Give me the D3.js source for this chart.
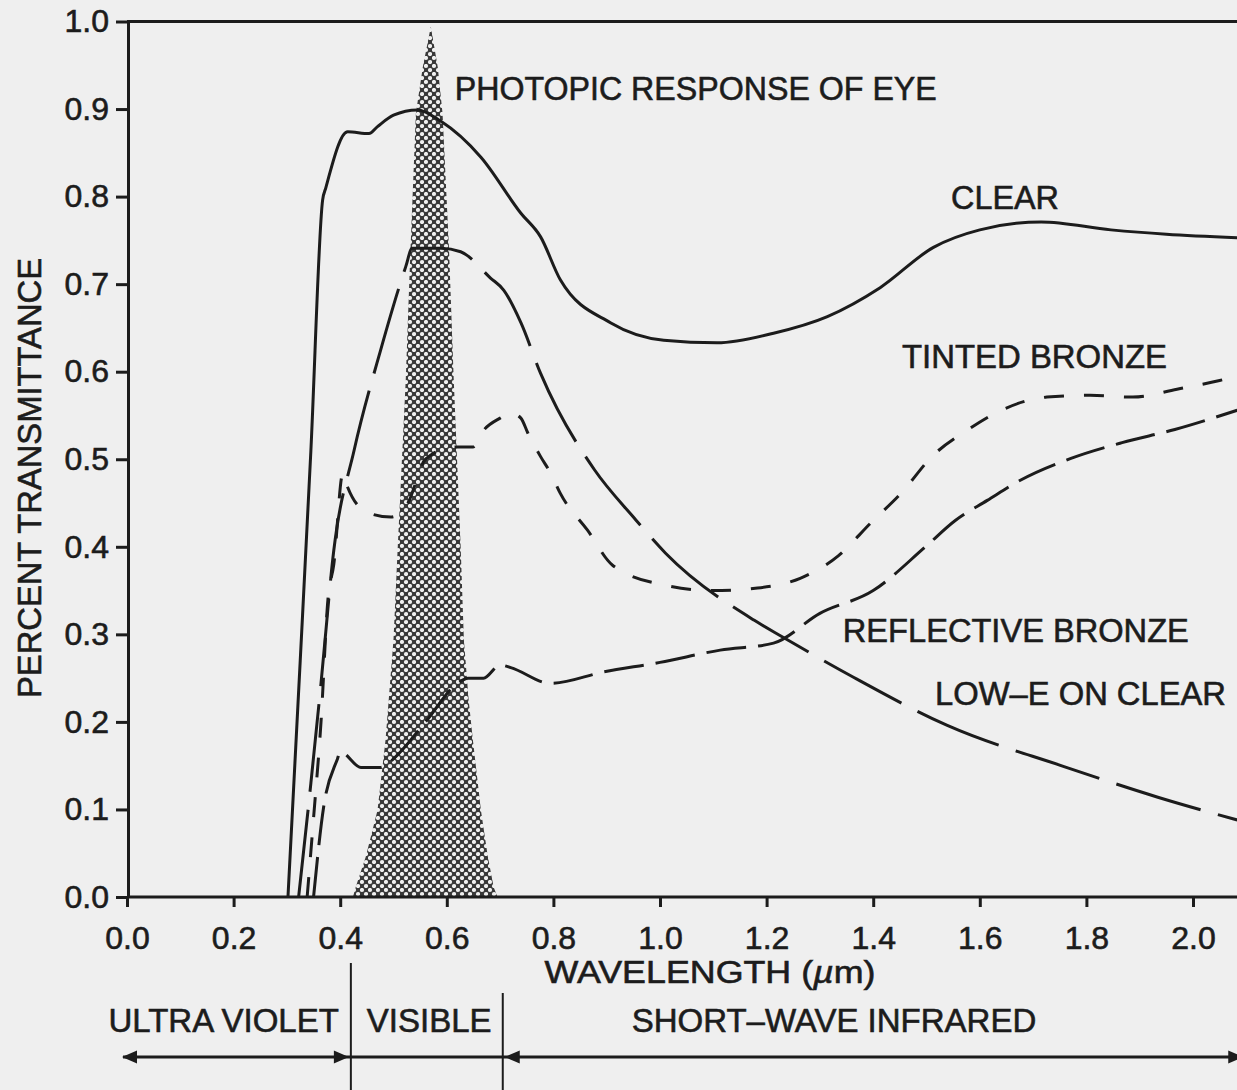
<!DOCTYPE html>
<html>
<head>
<meta charset="utf-8">
<script src="https://cdn.jsdelivr.net/npm/d3@7"></script>
<style>
  html, body { margin: 0; padding: 0; background: #efefef; }
  svg { display: block; }
  text { font-family: "Liberation Sans", Arial, Helvetica, sans-serif; fill: #1c1c1c; stroke: #1c1c1c; stroke-width: 0.6px; }
</style>
</head>
<body>
<svg id="chart" width="1237" height="1090"></svg>
<script>
// Spectral transmittance of window glazings, wavelength in µm
const clearWl = [0.302, 0.325, 0.345, 0.367, 0.373, 0.414, 0.454, 0.47, 0.50, 0.545, 0.589, 0.664, 0.739, 0.776, 0.813, 0.907, 1.007, 1.107, 1.213, 1.314, 1.413, 1.513, 1.60, 1.715, 1.846, 1.95, 2.083];
const clearT  = [0.00, 0.27, 0.51, 0.796, 0.81, 0.874, 0.872, 0.88, 0.893, 0.899, 0.886, 0.845, 0.781, 0.754, 0.705, 0.656, 0.636, 0.633, 0.644, 0.663, 0.696, 0.742, 0.762, 0.771, 0.762, 0.757, 0.753];

const tintedWl = [0.338, 0.35, 0.364, 0.377, 0.388, 0.405, 0.414, 0.452, 0.495, 0.527, 0.56, 0.613, 0.649, 0.669, 0.70, 0.72, 0.739, 0.752, 0.776, 0.795, 0.813, 0.864, 0.911, 1.01, 1.098, 1.183, 1.263, 1.335, 1.395, 1.455, 1.51, 1.576, 1.644, 1.726, 1.807, 1.887, 1.97, 2.05, 2.083];
const tintedT  = [0.00, 0.09, 0.20, 0.34, 0.38, 0.484, 0.468, 0.439, 0.434, 0.45, 0.50, 0.514, 0.514, 0.533, 0.547, 0.553, 0.547, 0.53, 0.503, 0.484, 0.461, 0.419, 0.379, 0.356, 0.35, 0.353, 0.364, 0.39, 0.427, 0.463, 0.503, 0.533, 0.557, 0.571, 0.573, 0.571, 0.58, 0.59, 0.595];

const reflectiveWl = [0.35, 0.369, 0.395, 0.40, 0.439, 0.476, 0.49, 0.56, 0.62, 0.64, 0.669, 0.70, 0.72, 0.795, 0.894, 1.0, 1.113, 1.213, 1.30, 1.40, 1.498, 1.554, 1.614, 1.676, 1.771, 1.867, 1.966, 2.083];
const reflectiveT  = [0.00, 0.103, 0.158, 0.166, 0.148, 0.148, 0.153, 0.20, 0.244, 0.25, 0.25, 0.265, 0.262, 0.244, 0.257, 0.268, 0.282, 0.29, 0.324, 0.35, 0.40, 0.43, 0.453, 0.476, 0.501, 0.519, 0.534, 0.556];

const lowEWl = [0.322, 0.345, 0.364, 0.388, 0.426, 0.476, 0.523, 0.535, 0.589, 0.626, 0.682, 0.707, 0.739, 0.776, 0.877, 0.95, 1.01, 1.177, 1.23, 1.363, 1.539, 1.758, 1.934, 2.083];
const lowET  = [0.00, 0.13, 0.244, 0.396, 0.51, 0.625, 0.72, 0.741, 0.741, 0.737, 0.707, 0.693, 0.656, 0.598, 0.488, 0.434, 0.393, 0.316, 0.297, 0.251, 0.196, 0.149, 0.114, 0.088];

// Photopic (daylight) response of the eye, relative
const photopicWl = [0.424, 0.429, 0.448, 0.470, 0.485, 0.500, 0.508, 0.523, 0.532, 0.542, 0.555, 0.570, 0.583, 0.592, 0.604, 0.613, 0.626, 0.632, 0.641, 0.649, 0.664, 0.677, 0.688, 0.695];
const photopicR  = [0.00, 0.011, 0.046, 0.099, 0.179, 0.294, 0.40, 0.591, 0.742, 0.895, 0.948, 0.994, 0.948, 0.895, 0.742, 0.591, 0.40, 0.294, 0.225, 0.179, 0.099, 0.046, 0.011, 0.00];

// Axis ticks
const xTickValues = [0.0, 0.2, 0.4, 0.6, 0.8, 1.0, 1.2, 1.4, 1.6, 1.8, 2.0];
const yTickValues = [0.0, 0.1, 0.2, 0.3, 0.4, 0.5, 0.6, 0.7, 0.8, 0.9, 1.0];

// Spectral bands below the axis and their boundaries (µm)
const bandNames = ["ULTRA VIOLET", "VISIBLE", "SHORT\u2013WAVE INFRARED"];
const bandEdges = [0.0, 0.42, 0.705, 2.083];

const W = 1237, H = 1090;
const svg = d3.select("#chart");
const ink = "#1c1c1c";

const x = d3.scaleLinear().domain([0, 2]).range([127, 1193]);
const y = d3.scaleLinear().domain([0, 1]).range([897, 21.5]);

const zip = (a, b) => a.map((v, i) => [v, b[i]]);

// Halftone dot fill for the eye-response area
const defs = svg.append("defs");
const pat = defs.append("pattern")
  .attr("id", "halftone")
  .attr("patternUnits", "userSpaceOnUse")
  .attr("width", 8).attr("height", 8);
pat.append("rect").attr("width", 8).attr("height", 8).attr("fill", "#383838");
pat.append("circle").attr("cx", 2).attr("cy", 2).attr("r", 2.1).attr("fill", "#f0f0f0");
pat.append("circle").attr("cx", 6).attr("cy", 6).attr("r", 2.1).attr("fill", "#f0f0f0");

const area = d3.area()
  .x(d => x(d[0]))
  .y0(y(0))
  .y1(d => y(d[1]))
  .curve(d3.curveLinear);

svg.append("path")
  .datum(zip(photopicWl, photopicR))
  .attr("d", area)
  .attr("fill", "url(#halftone)");

// Transmittance curves
const line = d3.line()
  .x(d => x(d[0]))
  .y(d => y(d[1]))
  .curve(d3.curveMonotoneX);

const series = [
  { wl: clearWl,      t: clearT,      dash: null },
  { wl: tintedWl,     t: tintedT,     dash: "20,20" },
  { wl: reflectiveWl, t: reflectiveT, dash: "40,12" },
  { wl: lowEWl,       t: lowET,       dash: "88,18" }
];

svg.append("g").selectAll("path")
  .data(series)
  .join("path")
  .attr("d", s => line(zip(s.wl, s.t)))
  .attr("fill", "none")
  .attr("stroke", ink)
  .attr("stroke-width", 3)
  .attr("stroke-dasharray", s => s.dash);

// Frame: top border and baseline running to the page edge
svg.append("line")
  .attr("x1", x(0)).attr("x2", W)
  .attr("y1", y(1)).attr("y2", y(1))
  .attr("stroke", ink).attr("stroke-width", 3);
svg.append("line")
  .attr("x1", x(0)).attr("x2", W)
  .attr("y1", y(0)).attr("y2", y(0))
  .attr("stroke", ink).attr("stroke-width", 3);

// Axes
const fmt = d3.format(".1f");
const yAxis = svg.append("g")
  .attr("transform", `translate(${x(0) + 1},0)`)
  .call(d3.axisLeft(y).tickValues(yTickValues).tickFormat(fmt)
    .tickSize(12).tickSizeOuter(0).tickPadding(7));
const xAxis = svg.append("g")
  .attr("transform", `translate(0,${y(0)})`)
  .call(d3.axisBottom(x).tickValues(xTickValues).tickFormat(fmt)
    .tickSize(10).tickSizeOuter(0).tickPadding(19));
xAxis.select(".domain").remove();

[yAxis, xAxis].forEach(g => {
  g.attr("font-family", null).attr("font-size", null);
  g.selectAll(".domain, .tick line").attr("stroke", ink).attr("stroke-width", 3);
  g.selectAll(".tick text").attr("fill", ink).style("font-size", "32px");
});

// Axis titles
svg.append("text")
  .attr("x", 710).attr("y", 983)
  .attr("text-anchor", "middle")
  .attr("textLength", 331).attr("lengthAdjust", "spacingAndGlyphs")
  .style("font-size", "32px")
  .call(t => {
    t.append("tspan").text("WAVELENGTH (");
    t.append("tspan").style("font-style", "italic").text("\u00b5");
    t.append("tspan").text("m)");
  });

svg.append("text")
  .attr("transform", "translate(41,478) rotate(-90)")
  .attr("text-anchor", "middle")
  .attr("textLength", 440).attr("lengthAdjust", "spacingAndGlyphs")
  .style("font-size", "32.5px")
  .text("PERCENT TRANSMITTANCE");

// Curve labels
const curveLabels = [
  { text: "PHOTOPIC RESPONSE OF EYE", wl: 0.615, t: 0.910, len: 482 },
  { text: "CLEAR",                    wl: 1.546, t: 0.786, len: 108 },
  { text: "TINTED BRONZE",            wl: 1.454, t: 0.604, len: 265 },
  { text: "REFLECTIVE BRONZE",        wl: 1.343, t: 0.291, len: 346 },
  { text: "LOW\u2013E ON CLEAR",      wl: 1.516, t: 0.219, len: 291 }
];
svg.append("g").selectAll("text")
  .data(curveLabels)
  .join("text")
  .attr("x", d => x(d.wl))
  .attr("y", d => y(d.t))
  .attr("textLength", d => d.len)
  .attr("lengthAdjust", "spacingAndGlyphs")
  .style("font-size", "33px")
  .text(d => d.text);

// Spectral band strip
const bandY = 1057;
const arrow = (tip, dir) => {
  const L = 15, h = 6.5;
  return `M${tip},${bandY} L${tip - dir * L},${bandY - h} L${tip - dir * L},${bandY + h} Z`;
};
svg.append("line")
  .attr("x1", x(bandEdges[0]) - 4).attr("x2", W)
  .attr("y1", bandY).attr("y2", bandY)
  .attr("stroke", ink).attr("stroke-width", 3);
svg.append("path").attr("d", arrow(x(bandEdges[0]) - 5, -1)).attr("fill", ink);
svg.append("path").attr("d", arrow(x(bandEdges[1]) - 2, 1)).attr("fill", ink);
svg.append("path").attr("d", arrow(x(bandEdges[2]) + 2, -1)).attr("fill", ink);
svg.append("path").attr("d", arrow(x(bandEdges[3]) + 6, 1)).attr("fill", ink);

svg.append("line")
  .attr("x1", x(bandEdges[1])).attr("x2", x(bandEdges[1]))
  .attr("y1", 963).attr("y2", H)
  .attr("stroke", ink).attr("stroke-width", 2);
svg.append("line")
  .attr("x1", x(bandEdges[2])).attr("x2", x(bandEdges[2]))
  .attr("y1", 993).attr("y2", H)
  .attr("stroke", ink).attr("stroke-width", 2);

const bandLabelPos = [
  { anchor: "end",    px: x(bandEdges[1]) - 12 },
  { anchor: "start",  px: x(bandEdges[1]) + 16 },
  { anchor: "middle", px: 834 }
];
svg.append("g").selectAll("text")
  .data(bandNames)
  .join("text")
  .attr("x", (d, i) => bandLabelPos[i].px)
  .attr("y", 1032)
  .attr("text-anchor", (d, i) => bandLabelPos[i].anchor)
  .style("font-size", "33px")
  .text(d => d);
</script>
</body>
</html>
